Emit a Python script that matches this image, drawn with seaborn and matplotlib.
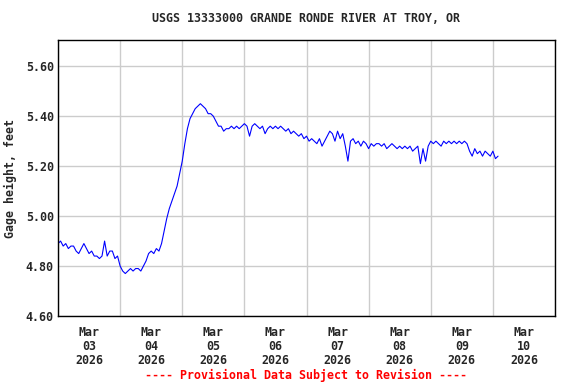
import pandas as pd
import numpy as np
import matplotlib
matplotlib.use('Agg')
import matplotlib.pyplot as plt
import seaborn as sns

# Gage height readings (feet), hourly
inicio = '2026-03-02 12:00'
mar02 = [4.89, 4.90, 4.88, 4.89, 4.87, 4.88, 4.88, 4.86, 4.85, 4.87, 4.89, 4.87]
mar03 = [4.85, 4.86, 4.84, 4.84, 4.83, 4.84, 4.90, 4.84, 4.86, 4.86, 4.83, 4.84,
         4.80, 4.78, 4.77, 4.78, 4.79, 4.78, 4.79, 4.79, 4.78, 4.80, 4.82, 4.85]
mar04 = [4.86, 4.85, 4.87, 4.86, 4.89, 4.94, 4.99, 5.03, 5.06, 5.09, 5.12, 5.17,
         5.22, 5.29, 5.35, 5.39, 5.41, 5.43, 5.44, 5.45, 5.44, 5.43, 5.41, 5.41]
mar05 = [5.40, 5.38, 5.36, 5.36, 5.34, 5.35, 5.35, 5.36, 5.35, 5.36, 5.35, 5.36,
         5.37, 5.36, 5.32, 5.36, 5.37, 5.36, 5.35, 5.36, 5.33, 5.35, 5.36, 5.35]
mar06 = [5.36, 5.35, 5.36, 5.35, 5.34, 5.35, 5.33, 5.34, 5.33, 5.32, 5.33, 5.31,
         5.32, 5.30, 5.31, 5.30, 5.29, 5.31, 5.28, 5.30, 5.32, 5.34, 5.33, 5.30]
mar07 = [5.34, 5.31, 5.33, 5.28, 5.22, 5.30, 5.31, 5.29, 5.30, 5.28, 5.30, 5.29,
         5.27, 5.29, 5.28, 5.29, 5.29, 5.28, 5.29, 5.27, 5.28, 5.29, 5.28, 5.27]
mar08 = [5.28, 5.27, 5.28, 5.27, 5.28, 5.26, 5.27, 5.28, 5.21, 5.27, 5.22, 5.28,
         5.30, 5.29, 5.30, 5.29, 5.28, 5.30, 5.29, 5.30, 5.29, 5.30, 5.29, 5.30]
mar09 = [5.29, 5.30, 5.29, 5.26, 5.24, 5.27, 5.25, 5.26, 5.24, 5.26, 5.25, 5.24,
         5.26, 5.23, 5.24]

nivel = mar02 + mar03 + mar04 + mar05 + mar06 + mar07 + mar08 + mar09
df = pd.DataFrame({
    'Data': pd.date_range(inicio, periods=len(nivel), freq='h'),
    'Nivel': nivel,
})

fonte = 'DejaVu Sans Mono'
fs = 8.4

sns.set_style('white')
plt.rcParams['font.family'] = [fonte, 'DejaVu Sans']
plt.rcParams['font.weight'] = 'bold'

fig = plt.figure(figsize=(5.76, 3.84), dpi=100)
ax = fig.add_axes([58 / 576, 68 / 384, 497 / 576, 276 / 384])

sns.lineplot(data=df, x='Data', y='Nivel', ax=ax, color='#0000ff', linewidth=0.8)

ax.set_xlim(pd.Timestamp('2026-03-02 12:00'), pd.Timestamp('2026-03-10 12:00'))
ax.set_ylim(4.60, 5.705)

# Rótulos na meia-noite, grade ao meio-dia
dias = pd.date_range('2026-03-03', '2026-03-10', freq='D')
ax.set_xticks(dias)
ax.set_xticklabels([d.strftime('%b\n%d\n%Y') for d in dias], fontsize=fs,
                   fontweight='bold', linespacing=1.1)
ax.set_xticks(pd.date_range('2026-03-02 12:00', '2026-03-10 12:00', freq='D'), minor=True)
ax.xaxis.grid(True, which='minor', color='#cccccc', linewidth=1)
ax.xaxis.grid(False, which='major')

yt = np.arange(4.60, 5.61, 0.2)
ax.set_yticks(yt)
ax.set_yticklabels([f'{v:.2f}' for v in yt], fontsize=fs, fontweight='bold')
ax.yaxis.grid(True, color='#cccccc', linewidth=1)
ax.set_axisbelow(True)

ax.tick_params(axis='x', which='both', length=0, pad=7)
ax.tick_params(axis='y', length=0, pad=3)

for s in ax.spines.values():
    s.set_color('black')
    s.set_linewidth(1)

ax.set_xlabel('')
ax.set_ylabel('Gage height, feet', fontsize=fs, fontweight='bold')
ax.yaxis.set_label_coords(-41 / 497, 0.5)

fig.text(306 / 576, 1 - 19 / 384, 'USGS 13333000 GRANDE RONDE RIVER AT TROY, OR',
         ha='center', va='center', fontsize=fs, fontweight='bold')
fig.text(306 / 576, 1 - 375 / 384, '---- Provisional Data Subject to Revision ----',
         ha='center', va='center', fontsize=fs, fontweight='bold', color='red')

plt.savefig('out.png', dpi=100)
